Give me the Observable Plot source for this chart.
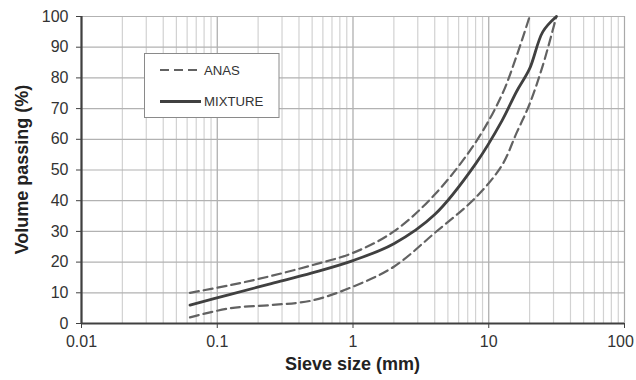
<!DOCTYPE html>
<html>
<head>
<meta charset="utf-8">
<script src="https://cdn.jsdelivr.net/npm/d3@7"></script>
<script src="https://cdn.jsdelivr.net/npm/@observablehq/plot@0.6"></script>
<style>
  html, body { margin: 0; padding: 0; background: #fff; }
  #chart { width: 636px; height: 380px; }
</style>
</head>
<body>
<div id="chart"></div>
<script>
// ---- data ----
const xTicks = [0.01, 0.1, 1, 10, 100];
const xTickLabels = ["0.01", "0.1", "1", "10", "100"];
const yTicks = [0, 10, 20, 30, 40, 50, 60, 70, 80, 90, 100];
const minorMultipliers = [2, 3, 4, 5, 6, 7, 8, 9];

const anasUpperSize = [0.063, 0.125, 0.25, 0.5, 1, 2, 4, 8, 12.5, 16, 20];
const anasUpperPass = [10, 12.5, 15.5, 19, 23, 30, 42, 59, 74.5, 87, 100];

const anasLowerSize = [0.063, 0.125, 0.25, 0.5, 1, 2, 4, 8, 12.5, 16, 20, 25, 31.5];
const anasLowerPass = [2, 5, 6, 7.5, 12, 18.5, 29.5, 41, 51.5, 62, 71.5, 84, 100];

const mixSize = [0.063, 0.125, 0.25, 0.5, 1, 2, 4, 8, 12.5, 16, 20, 25, 31.5];
const mixPass = [6, 9.5, 13, 16.5, 20.5, 26, 35.5, 52, 66, 75.5, 83, 95, 100];

const legendLabels = ["ANAS", "MIXTURE"];
const xTitle = "Sieve size (mm)";
const yTitle = "Volume passing (%)";

// ---- build tables ----
const toRows = (xs, ys) => xs.map((x, i) => ({x, y: ys[i]}));
const upper = toRows(anasUpperSize, anasUpperPass);
const lower = toRows(anasLowerSize, anasLowerPass);
const mix = toRows(mixSize, mixPass);
const minorGrid = xTicks.slice(0, -1).flatMap(d => minorMultipliers.map(k => k * d));

const W = 636, H = 380;
const mL = 81, mR = 12, mT = 16, mB = 57;

const plot = Plot.plot({
  width: W,
  height: H,
  marginLeft: mL,
  marginRight: mR,
  marginTop: mT,
  marginBottom: mB,
  style: {fontFamily: "'Liberation Sans', Arial, sans-serif", fontSize: "16px", color: "#333", background: "#fff", overflow: "visible"},
  x: {type: "log", domain: [0.01, 100]},
  y: {domain: [0, 100]},
  marks: [
    Plot.ruleX(minorGrid, {stroke: "#d2d2d2", strokeWidth: 1.2}),
    Plot.ruleX(xTicks, {stroke: "#a9a9a9", strokeWidth: 1.2}),
    Plot.ruleY(yTicks, {stroke: "#b2b2b2", strokeWidth: 1.2}),
    Plot.line(upper, {x: "x", y: "y", curve: "catmull-rom", stroke: "#626262", strokeWidth: 2.2, strokeDasharray: "9,5"}),
    Plot.line(lower, {x: "x", y: "y", curve: "catmull-rom", stroke: "#626262", strokeWidth: 2.2, strokeDasharray: "9,5"}),
    Plot.line(mix, {x: "x", y: "y", curve: "catmull-rom", stroke: "#404040", strokeWidth: 2.8}),
    Plot.axisX({ticks: xTicks, tickFormat: (d) => xTickLabels[xTicks.indexOf(d)], tickSize: 5, tickPadding: 7, fontSize: 16, label: null, stroke: "#404040"}),
    Plot.axisY({ticks: yTicks, tickSize: 5, tickPadding: 8, fontSize: 16, label: null, stroke: "#404040"}),
    Plot.ruleY([0], {stroke: "#404040", strokeWidth: 2.2}),
    Plot.ruleX([0.01], {stroke: "#404040", strokeWidth: 2.2})
  ]
});

const svg = d3.select(plot);
const font = "'Liberation Sans', Arial, sans-serif";

// keep the last x tick label inside the frame
const xLabels = svg.selectAll('g[aria-label="x-axis tick label"] text').nodes();
if (xLabels.length) d3.select(xLabels[xLabels.length - 1]).attr("dx", -4);

// axis titles
svg.append("text")
  .attr("x", (mL + W - mR) / 2).attr("y", 370)
  .attr("text-anchor", "middle")
  .attr("font-family", font).attr("font-size", 18).attr("font-weight", "bold")
  .attr("fill", "#222")
  .text(xTitle);
svg.append("text")
  .attr("transform", `translate(28,${(mT + H - mB) / 2}) rotate(-90)`)
  .attr("text-anchor", "middle")
  .attr("font-family", font).attr("font-size", 18).attr("font-weight", "bold")
  .attr("fill", "#222")
  .text(yTitle);

// legend
const lg = svg.append("g").attr("text-anchor", "start");
lg.append("rect").attr("x", 144.5).attr("y", 53.5).attr("width", 134.5).attr("height", 64)
  .attr("fill", "#fff").attr("stroke", "#8a8a8a").attr("stroke-width", 1);
lg.append("line").attr("x1", 160).attr("x2", 201).attr("y1", 70).attr("y2", 70)
  .attr("stroke", "#626262").attr("stroke-width", 2.2).attr("stroke-dasharray", "9,5");
lg.append("line").attr("x1", 160).attr("x2", 201).attr("y1", 101.5).attr("y2", 101.5)
  .attr("stroke", "#404040").attr("stroke-width", 2.8);
lg.append("text").attr("x", 204).attr("y", 70).attr("dy", "0.35em").attr("text-anchor", "start")
  .attr("font-family", font).attr("font-size", 13.2).attr("fill", "#333").text(legendLabels[0]);
lg.append("text").attr("x", 204).attr("y", 101.5).attr("dy", "0.35em").attr("text-anchor", "start")
  .attr("font-family", font).attr("font-size", 13.2).attr("fill", "#333").text(legendLabels[1]);

document.getElementById("chart").appendChild(plot);
</script>
</body>
</html>
